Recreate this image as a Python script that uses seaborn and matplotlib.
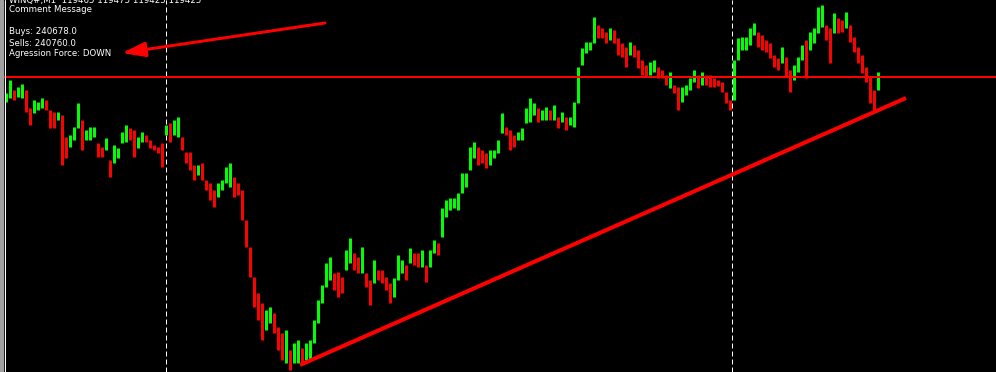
import numpy as np
import pandas as pd
import matplotlib
matplotlib.use("Agg")
import matplotlib.pyplot as plt
import seaborn as sns

# ---------------- data (chart units: bar index, price level on inverted screen scale) -------------
bar_top = [
    93, 80, 90, 87, 84, 90, 108, 100, 102, 98,
    100, 110, 112, 112, 115, 137, 135, 127, 103, 120,
    130, 127, 127, 143, 147, 138, 160, 145, 148, 132,
    125, 128, 130, 137, 132, 135, 140, 145, 147, 143,
    125, 123, 120, 117, 137, 152, 152, 165, 165, 163,
    180, 183, 190, 183, 180, 167, 163, 177, 183, 190,
    220, 247, 277, 293, 303, 310, 307, 313, 327, 333,
    330, 350, 343, 340, 348, 343, 340, 320, 300, 285,
    263, 257, 273, 272, 277, 250, 238, 253, 257, 247,
    273, 280, 260, 270, 270, 277, 283, 278, 255, 260,
    265, 248, 253, 253, 250, 265, 250, 240, 243, 208,
    200, 198, 198, 193, 173, 173, 147, 142, 147, 150,
    153, 150, 150, 140, 113, 127, 130, 135, 132, 128,
    108, 98, 103, 108, 110, 107, 110, 105, 117, 112,
    117, 117, 102, 67, 48, 42, 42, 17, 25, 28,
    32, 28, 30, 38, 43, 47, 42, 45, 50, 60,
    65, 62, 60, 67, 70, 75, 72, 85, 87, 87,
    85, 78, 70, 75, 72, 75, 75, 78, 80, 82,
    92, 100, 60, 38, 37, 37, 28, 23, 32, 35,
    40, 43, 55, 58, 47, 57, 70, 65, 57, 45,
    40, 32, 28, 7, 5, 25, 28, 13, 18, 20,
    12, 25, 37, 47, 55, 67, 77, 90, 72,
]
bar_bottom = [
    102, 98, 100, 97, 98, 112, 125, 113, 110, 108,
    110, 128, 128, 120, 165, 158, 147, 140, 128, 150,
    140, 140, 137, 157, 157, 150, 177, 163, 158, 143,
    142, 140, 157, 148, 142, 142, 148, 150, 153, 167,
    135, 142, 135, 137, 150, 163, 170, 180, 175, 180,
    190, 200, 207, 197, 190, 183, 187, 197, 195, 220,
    247, 277, 307, 320, 340, 330, 323, 333, 350, 360,
    363, 370, 363, 363, 362, 360, 360, 343, 323, 303,
    287, 280, 290, 297, 293, 270, 263, 270, 273, 273,
    287, 305, 283, 280, 283, 290, 303, 297, 280, 273,
    280, 263, 265, 267, 267, 282, 267, 253, 255, 237,
    217, 210, 208, 210, 193, 187, 170, 158, 165, 163,
    168, 165, 158, 153, 133, 135, 150, 147, 140, 140,
    123, 122, 115, 122, 120, 120, 120, 120, 128, 122,
    130, 125, 127, 103, 65, 53, 50, 43, 38, 38,
    43, 40, 43, 55, 57, 67, 55, 57, 68, 75,
    77, 75, 72, 78, 78, 85, 88, 93, 110, 102,
    95, 90, 82, 88, 85, 85, 87, 87, 86, 92,
    103, 110, 100, 60, 50, 50, 45, 35, 47, 50,
    52, 58, 67, 70, 63, 77, 92, 80, 72, 60,
    78, 50, 43, 33, 27, 40, 63, 33, 33, 32,
    28, 42, 52, 63, 73, 82, 103, 110, 90,
]
assert len(bar_top) == len(bar_bottom)

level_price = 76.5                      # horizontal line
separators = [39.9, 181.4]              # period separators (bar index)
trend_bars = [73.5, 225.0]              # trendline anchors
trend_prices = [365.0, 98.0]
arrow_tail = (79.75, 23.0)
arrow_head = (29.0, 53.0)

header = "WINQ#,M1  119465 119475 119425 119425"
comment_lines = ["Comment Message", "", "Buys: 240678.0", "Sells: 240760.0",
                 "Agression Force: DOWN"]

# ---------------- build long-form table ----------------
tops = np.array(bar_top, float)
bots = np.array(bar_bottom, float)
mid = (tops + bots) / 2
prev = np.r_[mid[0] + 1, mid[:-1]]
direction = np.where(mid <= prev, "up", "down")
n = len(tops)
df = pd.DataFrame({
    "bar": np.repeat(np.arange(n), 2),
    "price": np.column_stack([tops, bots]).ravel(),
    "dir": np.repeat(direction, 2),
})

# ---------------- figure ----------------
W, H = 996, 372
sns.set_theme(style="dark", rc={"axes.facecolor": "black", "figure.facecolor": "black"})
plt.rcParams["font.family"] = ["DejaVu Sans"]
fig = plt.figure(figsize=(W / 100, H / 100), dpi=100)
ax = fig.add_axes([0, 0, 1, 1])
ax.set_facecolor("black")

px = 72 / 100  # points per pixel
sns.lineplot(data=df, x="bar", y="price", units="bar", estimator=None, hue="dir",
             palette={"up": "#00ff00", "down": "#ff0000"}, linewidth=3.0 * px,
             legend=False, sort=False, ax=ax, solid_capstyle="butt")

# x: pixel 6 -> bar 0, 4 px per bar
ax.set_xlim(-6 / 4, (W - 6) / 4)
ax.set_ylim(H, 0)
ax.axis("off")

# objects
for s in separators:
    ax.axvline(s, color="white", lw=1 * px, dashes=(5, 3), zorder=1)
ax.axhline(level_price, color="#ff0000", lw=2 * px, zorder=3)
ax.plot(trend_bars, trend_prices, color="#ff0000", lw=4 * px, solid_capstyle="butt", zorder=4)
ax.annotate("", xy=arrow_head, xytext=arrow_tail,
            arrowprops=dict(arrowstyle="-|>,head_length=1.0,head_width=0.32",
                            color="#ff0000", lw=3 * px, mutation_scale=14,
                            shrinkA=0, shrinkB=0), zorder=5)

# left frame
fig.patches.append(plt.Rectangle((0, 0), 3 / W, 1, transform=fig.transFigure,
                                 color="#a0a0a0", zorder=10))
fig.add_artist(plt.Line2D([4.5 / W, 4.5 / W], [0, 1], transform=fig.transFigure,
                          color="white", lw=1 * px, zorder=10))

# texts
fs = 6.2
fig.text(9 / W, 1 - 0 / H, header, color="white", fontsize=fs, va="center", ha="left")
ys = [10, 21, 32, 43, 54]
for t, y in zip(comment_lines, ys):
    if t:
        fig.text(9 / W, 1 - y / H, t, color="white", fontsize=fs, va="center", ha="left")

fig.savefig("out.png", dpi=100, facecolor="black")
